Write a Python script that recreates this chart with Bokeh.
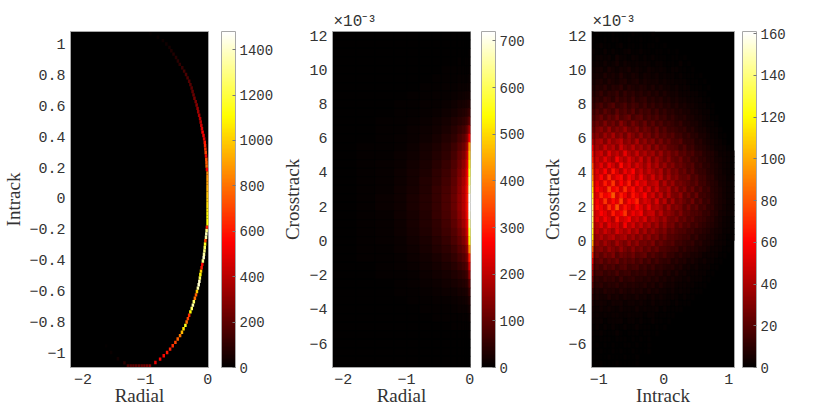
import numpy as np
from bokeh.embed import file_html
from bokeh.layouts import row
from bokeh.models import ColorBar, ColumnDataSource, FixedTicker, LinearColorMapper, Title
from bokeh.plotting import figure
from bokeh.resources import INLINE
from bokeh.transform import linear_cmap

# --- left panel: bins along the arc
arc_radial = [-1.63, -1.55, -1.44, -1.336, -1.28, -1.236, -1.192, -1.148, -1.104, -1.06, -1.016, -0.972, -0.928,
              -0.84, -0.765, -0.707, -0.653, -0.605, -0.563, -0.52, -0.483, -0.445, -0.415, -0.39, -0.36, -0.34,
              -0.32, -0.30, -0.28, -0.258, -0.24, -0.225, -0.208, -0.19, -0.175, -0.16, -0.147, -0.136, -0.128,
              -0.12, -0.11, -0.10, -0.09, -0.08, -0.067, -0.062, -0.055, -0.05, -0.045, -0.04, -0.03, -0.025,
              -0.02, -0.015, -0.005, -0.005, -0.005, -0.005, -0.005, -0.005, -0.005, -0.005, -0.005, -0.005,
              -0.005, -0.005, -0.005, -0.005, -0.005, -0.005, -0.015, -0.02, -0.022, -0.025, -0.03, -0.035, -0.04,
              -0.045, -0.05, -0.06, -0.07, -0.085, -0.095, -0.105, -0.115, -0.125, -0.14, -0.155, -0.165, -0.18,
              -0.195, -0.215, -0.23, -0.245, -0.26, -0.28, -0.30, -0.325, -0.35, -0.38, -0.41, -0.45, -0.48, -0.51,
              -0.55, -0.585, -0.615, -0.665, -0.72, -0.80, -0.92]
arc_intrack = [-0.957, -1.0, -1.04, -1.067, -1.087, -1.087, -1.087, -1.087, -1.087, -1.087, -1.087, -1.087, -1.087,
               -1.065, -1.043, -1.021, -1.0, -0.978, -0.956, -0.934, -0.912, -0.89, -0.868, -0.846, -0.824, -0.802,
               -0.78, -0.758, -0.736, -0.714, -0.692, -0.67, -0.648, -0.626, -0.604, -0.582, -0.56, -0.538, -0.516,
               -0.494, -0.472, -0.45, -0.428, -0.406, -0.384, -0.362, -0.34, -0.318, -0.296, -0.274, -0.252, -0.23,
               -0.208, -0.186, -0.164, -0.142, -0.12, -0.098, -0.076, -0.054, -0.032, -0.01, 0.012, 0.034, 0.056,
               0.078, 0.1, 0.122, 0.144, 0.166, 0.188, 0.21, 0.232, 0.254, 0.276, 0.298, 0.32, 0.342, 0.364, 0.386,
               0.408, 0.43, 0.452, 0.474, 0.496, 0.518, 0.54, 0.562, 0.584, 0.606, 0.628, 0.65, 0.672, 0.694, 0.716,
               0.738, 0.76, 0.782, 0.804, 0.826, 0.848, 0.87, 0.892, 0.914, 0.936, 0.958, 0.98, 1.002, 1.024, 1.046,
               1.068]
arc_counts = [10, 20, 40, 90, 170, 180, 190, 200, 210, 220, 240, 260, 300,
              500, 540, 570, 600, 620, 650, 700, 760, 820, 950, 1050, 1150, 800,
              700, 650, 1100, 1250, 1350, 1250, 800, 750, 1000, 1350, 1400, 1400, 1250,
              1100, 1000, 600, 560, 1300, 1400, 1350, 1300, 1250, 1150, 700, 1350, 1380,
              1300, 620, 1120, 1110, 1100, 1080, 1060, 1040, 1020, 1000, 980, 960, 940,
              920, 900, 880, 860, 840, 560, 780, 750, 730, 540, 700, 660,
              630, 600, 500, 520, 560, 480, 450, 420, 400, 370, 340, 320, 290,
              270, 250, 230, 210, 200, 190, 180, 170, 160, 140, 120, 100, 90, 80,
              70, 60, 50, 40, 30, 20, 10]

# --- middle panel: radial bin edges and counts per crosstrack row (x 1e-3), top row first
radial_rows = [12.0, 11.5, 11.0, 10.5, 10.0, 9.5, 9.0, 8.5, 8.0, 7.5, 7.0, 6.5, 6.0, 5.5, 5.0, 4.5, 4.0, 3.5, 3.0, 2.5,
               2.0, 1.5, 1.0, 0.5, 0.0, -0.5, -1.0, -1.5, -2.0, -2.5, -3.0, -3.5, -4.0, -4.5, -5.0, -5.5, -6.0, -6.5,
               -7.0, -7.5]
radial_edges = [-2.17, -1.8, -1.5, -1.2, -1.0, -0.8, -0.6, -0.45, -0.3, -0.2, -0.13, -0.08, -0.05, -0.02, 0.01]
radial_counts = [
    [0, 0, 0, 0, 0, 1, 0, 1, 0, 1, 1, 1, 1, 1],
    [0, 0, 0, 0, 1, 0, 1, 1, 1, 1, 1, 1, 1, 2],
    [0, 0, 0, 1, 0, 1, 1, 1, 1, 2, 2, 1, 2, 3],
    [0, 0, 1, 0, 1, 1, 2, 2, 2, 3, 2, 3, 3, 4],
    [0, 0, 0, 1, 1, 2, 2, 3, 3, 4, 4, 5, 5, 6],
    [0, 1, 1, 1, 2, 2, 3, 4, 5, 6, 7, 6, 8, 9],
    [0, 0, 1, 2, 2, 3, 4, 6, 7, 9, 10, 11, 12, 14],
    [1, 1, 1, 2, 3, 4, 6, 8, 10, 13, 15, 17, 18, 22],
    [0, 1, 2, 3, 4, 6, 8, 11, 15, 20, 23, 27, 30, 36],
    [1, 1, 2, 3, 5, 8, 11, 15, 22, 29, 34, 40, 46, 60],
    [0, 1, 3, 4, 7, 10, 15, 21, 31, 41, 48, 58, 70, 100],
    [1, 2, 3, 5, 9, 13, 19, 28, 40, 56, 68, 80, 110, 170],
    [1, 2, 4, 7, 11, 16, 24, 35, 50, 72, 90, 110, 150, 260],
    [1, 3, 5, 8, 13, 20, 30, 44, 62, 88, 112, 135, 190, 430],
    [1, 3, 5, 9, 15, 23, 36, 50, 72, 105, 132, 160, 225, 470],
    [2, 3, 6, 11, 18, 27, 41, 57, 82, 118, 150, 178, 250, 510],
    [1, 4, 7, 12, 20, 30, 46, 64, 90, 128, 164, 195, 270, 560],
    [2, 4, 8, 14, 22, 34, 50, 70, 98, 138, 176, 208, 285, 610],
    [2, 5, 8, 15, 24, 36, 54, 74, 104, 146, 185, 218, 295, 660],
    [2, 4, 9, 15, 26, 38, 56, 78, 108, 150, 188, 222, 300, 710],
    [2, 5, 9, 16, 26, 38, 56, 78, 108, 150, 186, 220, 295, 715],
    [1, 4, 8, 15, 24, 36, 54, 74, 104, 142, 178, 210, 285, 690],
    [2, 4, 8, 14, 23, 34, 50, 70, 96, 132, 166, 196, 262, 630],
    [1, 4, 7, 13, 20, 31, 46, 62, 86, 118, 148, 176, 240, 570],
    [1, 3, 6, 11, 18, 27, 40, 55, 76, 104, 130, 155, 210, 520],
    [1, 3, 5, 9, 15, 23, 34, 47, 64, 88, 108, 128, 170, 420],
    [1, 3, 5, 8, 13, 19, 28, 38, 52, 72, 88, 104, 135, 300],
    [1, 2, 4, 6, 10, 15, 22, 30, 42, 56, 68, 80, 100, 215],
    [1, 2, 3, 5, 8, 12, 17, 23, 32, 42, 50, 58, 72, 150],
    [0, 1, 2, 4, 6, 9, 13, 17, 24, 30, 35, 40, 50, 95],
    [0, 1, 2, 3, 4, 7, 9, 12, 16, 21, 24, 27, 32, 60],
    [0, 1, 1, 2, 3, 5, 6, 8, 11, 14, 15, 17, 20, 36],
    [0, 1, 1, 2, 2, 3, 4, 5, 7, 9, 10, 10, 12, 22],
    [0, 0, 1, 1, 2, 2, 3, 3, 4, 5, 6, 6, 7, 12],
    [0, 0, 0, 1, 1, 1, 2, 2, 3, 3, 3, 4, 4, 7],
    [0, 0, 0, 0, 1, 1, 1, 1, 2, 2, 2, 2, 2, 4],
    [0, 0, 0, 0, 0, 1, 1, 1, 1, 1, 1, 1, 1, 2],
    [0, 0, 0, 0, 0, 0, 1, 0, 1, 1, 1, 1, 1, 1],
    [0, 0, 0, 0, 0, 0, 0, 1, 0, 0, 1, 0, 1, 1],
    [0, 0, 0, 0, 0, 0, 0, 0, 0, 0, 0, 0, 0, 1],
]

# --- right panel: 36 intrack bins, trailing empty bins of a row left out
intrack_rows = [12.1, 11.75, 11.4, 11.05, 10.7, 10.35, 10.0, 9.65, 9.3, 8.95, 8.6, 8.25, 7.9, 7.55, 7.2, 6.85, 6.5,
                6.15, 5.8, 5.45, 5.1, 4.75, 4.4, 4.05, 3.7, 3.35, 3.0, 2.65, 2.3, 1.95, 1.6, 1.25, 0.9, 0.55, 0.2,
                -0.15, -0.5, -0.85, -1.2, -1.55, -1.9, -2.25, -2.6, -2.95, -3.3, -3.65, -4.0, -4.35, -4.7, -5.05,
                -5.4, -5.75, -6.1, -6.45, -6.8, -7.15]
intrack_edges = np.linspace(-1.11, 1.09, 37)
intrack_counts = [
    [0, 1, 0, 0, 0, 1, 0, 0, 0, 0, 1, 0, 0, 0, 0, 1],
    [1, 0, 0, 1, 0, 1, 1, 0, 0, 1, 0, 0, 1, 0, 0, 0, 1],
    [0, 1, 2, 1, 1, 0, 1, 2, 0, 1, 1, 0, 1, 0, 1, 1, 0, 0, 1],
    [2, 1, 1, 3, 1, 2, 1, 1, 2, 3, 1, 1, 2, 1, 1, 0, 1, 1, 0, 1, 0, 1],
    [1, 2, 3, 2, 3, 1, 4, 2, 2, 1, 3, 2, 1, 2, 1, 2, 1, 1, 1, 0, 1, 1, 0, 1],
    [2, 3, 2, 4, 2, 3, 5, 2, 4, 3, 2, 3, 2, 3, 2, 1, 2, 2, 1, 1, 1, 0, 2, 0, 1],
    [3, 4, 5, 3, 6, 4, 3, 5, 4, 6, 3, 4, 3, 2, 4, 3, 2, 3, 2, 1, 2, 2, 1, 1, 0, 1],
    [4, 5, 4, 7, 5, 6, 4, 8, 5, 4, 6, 5, 3, 5, 4, 3, 4, 2, 3, 2, 2, 1, 2, 1, 1, 1, 0, 1],
    [4, 6, 7, 5, 8, 6, 5, 7, 8, 5, 6, 7, 4, 6, 5, 4, 5, 3, 4, 3, 3, 2, 2, 2, 1, 1, 1, 0, 1],
    [5, 8, 7, 10, 6, 9, 8, 11, 6, 9, 7, 6, 8, 7, 5, 7, 4, 6, 4, 4, 3, 4, 2, 3, 2, 1, 1, 1, 0, 1],
    [6, 9, 12, 8, 11, 10, 13, 8, 12, 9, 11, 8, 10, 7, 9, 6, 8, 5, 7, 5, 4, 5, 3, 3, 3, 2, 2, 1, 1],
    [8, 11, 10, 14, 12, 9, 15, 11, 13, 10, 14, 9, 11, 12, 8, 10, 7, 9, 6, 7, 5, 6, 4, 4, 3, 3, 2, 2, 1, 1],
    [10, 14, 17, 12, 16, 19, 13, 15, 18, 12, 16, 14, 11, 15, 10, 13, 9, 11, 8, 9, 6, 8, 5, 6, 4, 4, 3, 2, 2, 1, 1],
    [12, 18, 15, 21, 17, 14, 22, 16, 19, 15, 20, 13, 17, 14, 16, 11, 15, 10, 12, 9, 10, 7, 8, 6, 6, 4, 4, 3, 2, 2, 1],
    [15, 20, 24, 17, 23, 19, 26, 18, 21, 25, 16, 20, 22, 15, 18, 14, 17, 12, 14, 10, 12, 9, 8, 9, 6, 6, 4, 4, 3, 2, 1, 1],
    [18, 24, 21, 29, 22, 26, 20, 31, 24, 19, 27, 22, 18, 24, 16, 21, 15, 18, 13, 15, 12, 10, 12, 8, 8, 6, 6, 4, 3, 2, 2, 1],
    [20, 28, 32, 25, 34, 24, 30, 27, 35, 26, 24, 30, 21, 26, 23, 18, 24, 16, 20, 14, 15, 13, 11, 12, 8, 9, 6, 5, 5, 3, 2, 2, 1],
    [24, 31, 27, 36, 30, 39, 28, 34, 26, 37, 30, 25, 33, 24, 28, 20, 26, 19, 22, 17, 20, 14, 15, 11, 13, 9, 9, 6, 6, 4, 3, 2, 1, 1],
    [27, 36, 40, 30, 42, 33, 38, 44, 31, 36, 29, 40, 28, 34, 26, 31, 22, 28, 20, 24, 18, 17, 20, 13, 12, 12, 8, 9, 6, 5, 4, 3, 2, 1],
    [30, 38, 34, 46, 37, 43, 32, 48, 39, 34, 44, 33, 38, 30, 36, 25, 33, 24, 28, 22, 21, 19, 15, 19, 13, 14, 10, 9, 8, 6, 5, 3, 3, 2, 1],
    [32, 43, 48, 37, 52, 40, 46, 38, 55, 42, 36, 47, 35, 41, 33, 38, 28, 36, 26, 30, 23, 27, 19, 21, 16, 18, 12, 13, 9, 8, 7, 5, 3, 3, 2, 1],
    [34, 47, 41, 54, 44, 38, 58, 46, 40, 52, 43, 37, 48, 33, 44, 30, 39, 32, 26, 33, 24, 22, 26, 18, 20, 14, 15, 11, 11, 8, 7, 5, 4, 3, 2, 1],
    [38, 45, 54, 42, 57, 48, 40, 62, 45, 52, 39, 50, 44, 36, 47, 34, 42, 30, 36, 27, 31, 23, 25, 21, 18, 20, 13, 14, 10, 10, 7, 6, 4, 3, 2, 1],
    [40, 52, 46, 60, 44, 64, 50, 42, 56, 48, 60, 41, 50, 38, 47, 40, 35, 42, 28, 35, 26, 29, 22, 25, 17, 21, 14, 13, 12, 9, 8, 6, 5, 3, 2, 1],
    [42, 50, 60, 46, 68, 48, 56, 62, 44, 58, 52, 42, 56, 44, 38, 50, 36, 44, 30, 38, 28, 32, 24, 23, 26, 17, 20, 14, 14, 10, 10, 6, 5, 4, 2, 2],
    [43, 56, 48, 66, 52, 72, 46, 60, 50, 66, 44, 58, 48, 54, 40, 44, 48, 32, 42, 30, 36, 26, 28, 24, 22, 18, 22, 15, 15, 11, 9, 8, 5, 4, 3, 2],
    [44, 60, 54, 50, 74, 56, 64, 48, 70, 52, 62, 46, 56, 42, 54, 38, 50, 36, 34, 42, 28, 34, 24, 29, 20, 24, 16, 19, 13, 14, 9, 8, 6, 4, 3, 2],
    [45, 52, 68, 56, 62, 80, 50, 66, 56, 46, 64, 54, 48, 60, 42, 50, 36, 46, 32, 42, 30, 28, 34, 22, 26, 18, 24, 15, 15, 12, 10, 8, 6, 4, 3, 2],
    [45, 58, 52, 72, 50, 62, 54, 76, 48, 62, 56, 68, 44, 52, 48, 38, 52, 34, 44, 28, 38, 26, 30, 24, 20, 26, 16, 20, 13, 15, 10, 8, 6, 5, 3, 2],
    [44, 62, 56, 48, 70, 54, 78, 50, 64, 54, 46, 60, 52, 42, 56, 40, 44, 38, 30, 40, 28, 32, 28, 20, 26, 18, 22, 14, 16, 11, 11, 7, 6, 4, 3, 2],
    [44, 50, 60, 54, 46, 66, 52, 58, 72, 46, 56, 50, 58, 40, 46, 48, 34, 44, 32, 34, 30, 24, 30, 22, 22, 18, 18, 16, 12, 13, 9, 8, 5, 4, 3, 2],
    [40, 54, 46, 58, 50, 42, 64, 48, 52, 60, 44, 50, 42, 52, 36, 44, 38, 32, 38, 28, 26, 30, 22, 24, 18, 20, 15, 14, 13, 10, 9, 6, 5, 3, 2, 1],
    [38, 44, 52, 40, 54, 46, 50, 40, 58, 42, 50, 38, 46, 36, 42, 32, 38, 28, 34, 26, 28, 20, 24, 18, 20, 14, 16, 12, 11, 9, 8, 6, 4, 3, 2, 1],
    [34, 44, 38, 48, 42, 36, 50, 44, 38, 46, 36, 44, 32, 40, 30, 36, 30, 26, 30, 22, 24, 20, 18, 18, 14, 15, 11, 11, 9, 8, 6, 5, 4, 2, 2, 1],
    [30, 36, 42, 34, 40, 44, 34, 38, 42, 32, 38, 30, 36, 28, 34, 26, 30, 22, 26, 20, 20, 18, 16, 14, 15, 10, 12, 8, 8, 6, 6, 4, 3, 2, 1, 1],
    [26, 34, 30, 38, 32, 28, 38, 32, 28, 36, 28, 34, 26, 28, 24, 30, 20, 24, 20, 18, 20, 14, 15, 12, 11, 12, 8, 9, 6, 6, 5, 3, 3, 2, 1],
    [22, 28, 32, 26, 34, 30, 26, 34, 28, 24, 32, 24, 28, 22, 26, 20, 24, 18, 18, 16, 14, 15, 10, 12, 9, 9, 8, 6, 6, 4, 3, 3, 2, 1, 1],
    [18, 26, 22, 28, 24, 30, 20, 26, 24, 22, 26, 20, 22, 24, 16, 20, 16, 14, 17, 12, 12, 9, 11, 8, 8, 6, 6, 5, 3, 3, 3, 2, 1, 1],
    [15, 20, 24, 18, 23, 20, 25, 18, 22, 18, 21, 16, 20, 14, 18, 12, 16, 12, 11, 12, 8, 10, 7, 8, 5, 6, 4, 3, 4, 2, 2, 1, 1],
    [13, 17, 15, 20, 16, 19, 14, 18, 20, 14, 16, 17, 12, 15, 11, 14, 10, 11, 9, 8, 9, 6, 7, 4, 5, 3, 4, 2, 2, 2, 1, 1],
    [10, 14, 16, 12, 15, 13, 17, 12, 14, 15, 11, 13, 11, 13, 9, 11, 8, 10, 6, 8, 5, 7, 4, 5, 3, 3, 3, 2, 2, 1, 1],
    [8, 11, 10, 13, 11, 12, 9, 14, 10, 11, 12, 9, 10, 8, 10, 7, 9, 6, 7, 5, 6, 4, 4, 3, 4, 2, 2, 2, 1, 1],
    [7, 9, 11, 8, 10, 9, 11, 8, 10, 8, 9, 8, 7, 9, 6, 8, 5, 7, 5, 4, 5, 3, 3, 3, 2, 2, 1, 1, 1],
    [5, 7, 6, 9, 7, 8, 6, 9, 7, 6, 8, 6, 7, 5, 7, 5, 6, 4, 4, 3, 4, 2, 3, 2, 2, 1, 1, 1],
    [4, 6, 5, 5, 7, 5, 6, 4, 6, 5, 4, 6, 4, 5, 3, 5, 3, 4, 3, 2, 3, 2, 1, 2, 1, 1],
    [3, 4, 5, 4, 3, 5, 4, 5, 3, 4, 4, 3, 4, 3, 2, 4, 2, 3, 2, 2, 1, 2, 1, 1, 1],
    [3, 3, 4, 3, 4, 3, 2, 4, 3, 3, 2, 4, 2, 3, 2, 2, 3, 1, 2, 1, 1, 1, 1],
    [2, 3, 2, 3, 2, 3, 3, 2, 2, 3, 2, 2, 2, 1, 2, 2, 1, 1, 1, 1, 1],
    [2, 2, 3, 1, 2, 2, 2, 3, 1, 2, 2, 1, 2, 1, 1, 2, 1, 1, 0, 1],
    [1, 2, 1, 2, 1, 2, 1, 1, 2, 1, 1, 2, 1, 1, 1, 0, 1, 0, 1],
    [1, 1, 2, 1, 1, 1, 2, 1, 0, 1, 1, 1, 0, 1, 1, 0, 1],
    [1, 0, 1, 1, 1, 0, 1, 1, 1, 0, 1, 0, 1, 0, 1],
    [0, 1, 0, 1, 0, 1, 0, 0, 1, 1, 0, 1, 0, 0, 1],
    [0, 0, 1, 0, 0, 1, 0, 1, 0, 0, 1, 0, 0, 0, 1],
    [1, 0, 0, 0, 1, 0, 0, 0, 1, 0, 0, 1],
    [0, 0, 1, 0, 0, 0, 1, 0, 0, 0, 0, 1],
]
# bright narrow column on the left edge of the right panel
edge_counts = [0, 1, 1, 2, 2, 3, 4, 5, 6, 8, 10, 12, 14, 17, 20, 24, 28, 34, 44, 58, 66, 70, 80, 88, 95, 105, 115, 125,
               132, 138, 140, 136, 132, 125, 118, 100, 82, 68, 55, 44, 36, 28, 22, 15, 11, 8, 5, 4, 3, 2, 2, 1, 1, 0,
               0, 0]

intrack_ticks_y = [-1, -0.8, -0.6, -0.4, -0.2, 0, 0.2, 0.4, 0.6, 0.8, 1]
cross_ticks = [-6, -4, -2, 0, 2, 4, 6, 8, 10, 12]
radial_ticks = [-2, -1, 0]
intrack_ticks_x = [-1, 0, 1]
bar_ticks_1 = [0, 200, 400, 600, 800, 1000, 1200, 1400]
bar_ticks_2 = [0, 100, 200, 300, 400, 500, 600, 700]
bar_ticks_3 = [0, 20, 40, 60, 80, 100, 120, 140, 160]

GREY = "#a8a8a8"
TEXT = "#333333"
MONO = "Liberation Mono"
SERIF = "Liberation Serif"
CROSS_TOP = 12.2  # keeps the top row under the frame outline


def hot_palette(n=256):
    # same ramp as matlab hot
    i = np.arange(1, n + 1) / n
    r = np.clip(i / 0.375, 0, 1)
    g = np.clip((i - 0.375) / 0.375, 0, 1)
    b = np.clip((i - 0.75) / 0.25, 0, 1)
    return ["#%02x%02x%02x" % (int(a * 255), int(c * 255), int(d * 255)) for a, c, d in zip(r, g, b)]


HOT = hot_palette()


def minus(ticks):
    return {t: str(t).replace("-", "\u2212") for t in ticks}


def make_panel(xr, yr, xticks, yticks, xlabel, ylabel, high, bar_ticks, frame_w, border_left, bar_gap, y_standoff):
    p = figure(height=396, frame_width=frame_w, frame_height=336, x_range=xr, y_range=yr,
               toolbar_location=None, output_backend="svg",
               min_border_left=border_left, min_border_top=31, min_border_bottom=37, min_border_right=0,
               background_fill_color="black", outline_line_color=GREY, outline_line_width=1)
    p.grid.visible = False
    for ax, ticks, label in ((p.xaxis[0], xticks, xlabel), (p.yaxis[0], yticks, ylabel)):
        ax.ticker = FixedTicker(ticks=ticks)
        ax.major_label_overrides = minus(ticks)
        ax.axis_label = label
        ax.axis_label_text_font = SERIF
        ax.axis_label_text_font_style = "normal"
        ax.axis_label_text_font_size = "19px"
        ax.axis_label_text_color = TEXT
        ax.major_label_text_font = MONO
        ax.major_label_text_font_size = "15px"
        ax.major_label_text_color = TEXT
        ax.axis_line_color = GREY
        ax.major_tick_line_color = None
        ax.minor_tick_line_color = None
        ax.major_tick_out = 0
        ax.major_tick_in = 0
        ax.axis_label_standoff = -2
        ax.major_label_standoff = 6
    p.yaxis[0].axis_label_standoff = y_standoff
    p.yaxis[0].major_label_standoff = 5
    mapper = LinearColorMapper(palette=HOT, low=0, high=high)
    bar = ColorBar(color_mapper=mapper, ticker=FixedTicker(ticks=bar_ticks), width=14, height=336,
                   location=(bar_gap, 0), padding=0, margin=0, major_label_text_font=MONO,
                   major_label_text_font_size="14px", major_label_text_color=TEXT,
                   major_tick_line_color="#777777", major_tick_in=3, minor_tick_line_color=None,
                   bar_line_color=GREY, border_line_color=None, background_fill_color=None, label_standoff=4)
    p.add_layout(bar, "right")
    return p, mapper


def quad_source(edges, row_centres, rows, half_height):
    left, right, top, bottom, counts = [], [], [], [], []
    for yc, vals in zip(row_centres, rows):
        for k, v in enumerate(vals):
            left.append(edges[k])
            right.append(edges[k + 1])
            top.append(min(yc + half_height, CROSS_TOP))
            bottom.append(yc - half_height)
            counts.append(v)
    return ColumnDataSource(dict(left=left, right=right, top=top, bottom=bottom, c=counts))


def scale_title(p):
    p.add_layout(Title(text="\u00d710\u207b\u00b3", text_font=MONO, text_font_size="16px", text_font_style="normal",
                       text_color=TEXT, align="left", offset=1, standoff=1), "above")


# left panel
p1, m1 = make_panel((-2.2, 0.01), (-1.097, 1.083), radial_ticks, intrack_ticks_y, "Radial", "Intrack",
                    1480, bar_ticks_1, 138, 63, 13, 2)
arc = ColumnDataSource(dict(x=arc_radial, y=arc_intrack, c=arc_counts))
p1.rect("x", "y", width=0.04, height=0.022, source=arc, line_color=None,
        fill_color=linear_cmap("c", HOT, 0, 1480))

# middle panel
p2, m2 = make_panel((-2.17, 0.01), (-7.4, 12.24), radial_ticks, cross_ticks, "Radial", "Crosstrack",
                    720, bar_ticks_2, 138, 56, 11, 3)
cmap2 = linear_cmap("c", HOT, 0, 720)
p2.quad(left="left", right="right", top="top", bottom="bottom",
        source=quad_source(radial_edges, radial_rows, radial_counts, 0.25),
        line_color=cmap2, line_width=0.5, fill_color=cmap2)
scale_title(p2)

# right panel
p3, m3 = make_panel((-1.11, 1.09), (-7.4, 12.24), intrack_ticks_x, cross_ticks, "Intrack", "Crosstrack",
                    161, bar_ticks_3, 143, 64, 8, 2)
cmap3 = linear_cmap("c", HOT, 0, 161)
p3.quad(left="left", right="right", top="top", bottom="bottom",
        source=quad_source(intrack_edges, intrack_rows, intrack_counts, 0.175),
        line_color=cmap3, line_width=0.5, fill_color=cmap3)
edge_src = ColumnDataSource(dict(y=intrack_rows, c=edge_counts))
p3.rect(x=-1.095, y="y", width=0.03, height=0.35, source=edge_src, line_color=None, fill_color=cmap3)
scale_title(p3)

page = row(p1, p2, p3, spacing=0)
open("out.html", "w").write(file_html(page, INLINE))
